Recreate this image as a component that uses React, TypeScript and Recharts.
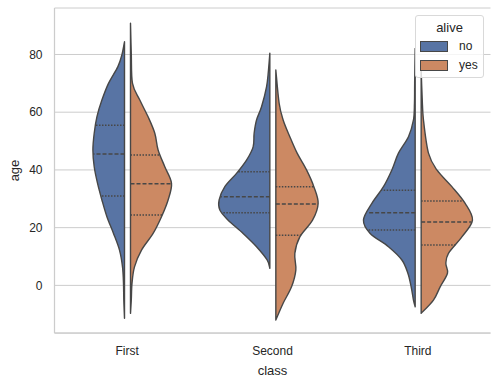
import React from 'react';
import { ComposedChart, Bar, XAxis, YAxis, CartesianGrid, Legend } from 'recharts';

// ---------- data ----------
const CLASSES = ['First', 'Second', 'Third'];
const ALIVE = ['no', 'yes'];
const Y_TICKS = [0, 20, 40, 60, 80];
const Y_DOMAIN: [number, number] = [-16.5, 96.1];

// violin half profiles: [age, half-width (px at reference width 56)]
const FIRST_NO: [number, number][] = [
  [84.4, 0], [80, 2.5], [75.8, 6.6], [70, 16], [64.2, 22.6], [58.4, 27.6], [52.7, 30.3],
  [46.9, 31.6], [41.1, 30.3], [35.4, 27], [29.6, 22.6], [23.8, 17.6], [18, 11],
  [12.2, 5], [6.4, 2], [0.7, 1], [-5, 0.7], [-11.4, 0],
];
const FIRST_YES: [number, number][] = [
  [90.8, 0], [80, 0.8], [70, 2], [64.2, 9.3], [58.4, 17.6], [52.7, 24.3], [46.9, 27.6],
  [41.1, 34.3], [35.4, 41], [29.6, 37.6], [23.8, 31], [18, 22.6], [12.2, 11],
  [6.4, 4], [0.7, 1.5], [-5, 0.8], [-9.7, 0],
];
const SECOND_NO: [number, number][] = [
  [80.4, 0], [74, 1.5], [68.8, 3.3], [61.9, 8.3], [57.3, 13.3], [52.7, 15.7], [48, 16.7],
  [43.4, 23.3], [38.8, 33.3], [34.2, 45], [29.6, 50.7], [26.1, 50], [22.6, 41.7],
  [18, 26.7], [13.4, 13.3], [8.8, 2.7], [5.9, 0],
];
const SECOND_YES: [number, number][] = [
  [74.6, 0], [63.1, 3.3], [57.3, 7.3], [51.5, 14], [45.8, 21.3], [40, 30.7], [34.2, 38],
  [28.4, 42.3], [22.6, 36.7], [16.8, 24], [11.1, 19], [5.3, 20], [-0.5, 15.7],
  [-6.2, 7.3], [-12, 0],
];
const THIRD_NO: [number, number][] = [
  [82.1, 0], [70, 0.5], [63.1, 0.7], [57.3, 1.7], [51.5, 6.7], [45.8, 16.7], [40, 23.3],
  [34.2, 31.7], [28.4, 43.3], [22.6, 51.7], [18, 45], [13.4, 26.7], [8.8, 13.3],
  [4.2, 7.3], [-0.5, 4], [-5.1, 1.7], [-7.4, 0],
];
const THIRD_YES: [number, number][] = [
  [74.6, 0], [65, 1], [57.3, 2.3], [45.8, 7.3], [40, 15.7], [34.2, 30.7], [28.4, 44],
  [22.6, 51.3], [16.8, 40.7], [11.1, 27.3], [7.6, 24.7], [4.2, 26.3], [-0.5, 19],
  [-5.1, 12.3], [-9.7, 0],
];

// quartiles [Q1, median, Q3]
const FIRST_NO_Q = [31, 45.5, 55.5];
const FIRST_YES_Q = [24.4, 35.2, 45.2];
const SECOND_NO_Q = [25.2, 30.7, 39.4];
const SECOND_YES_Q = [17.4, 28.2, 34.2];
const THIRD_NO_Q = [19.2, 25.2, 33];
const THIRD_YES_Q = [14, 22, 29.2];

const PROFILES_NO = [FIRST_NO, SECOND_NO, THIRD_NO];
const PROFILES_YES = [FIRST_YES, SECOND_YES, THIRD_YES];
const QUART_NO = [FIRST_NO_Q, SECOND_NO_Q, THIRD_NO_Q];
const QUART_YES = [FIRST_YES_Q, SECOND_YES_Q, THIRD_YES_Q];

const range = (p: [number, number][]) => {
  const ages = p.map((d) => d[0]);
  return [Math.min(...ages), Math.max(...ages)];
};

const data = CLASSES.map((cls, i) => ({
  cls,
  no: range(PROFILES_NO[i]),
  yes: range(PROFILES_YES[i]),
  noProfile: PROFILES_NO[i],
  yesProfile: PROFILES_YES[i],
  noQ: QUART_NO[i],
  yesQ: QUART_YES[i],
}));

// ---------- styling ----------
const FONT = '"Liberation Sans", Arial, sans-serif';
const TEXT = '#262626';
const COLORS: Record<string, string> = { no: '#5874a4', yes: '#cc8963' };
const EDGE = '#474747';
const FRAME = '#cccccc';
const WIDTH_REF = 56;

const smooth = (pts: number[][]) => {
  let d = `M${pts[0][0]},${pts[0][1]}`;
  for (let i = 0; i < pts.length - 1; i++) {
    const p0 = pts[i - 1] || pts[i];
    const p1 = pts[i];
    const p2 = pts[i + 1];
    const p3 = pts[i + 2] || p2;
    const c1x = p1[0] + (p2[0] - p0[0]) / 6;
    const c1y = p1[1] + (p2[1] - p0[1]) / 6;
    const c2x = p2[0] - (p3[0] - p1[0]) / 6;
    const c2y = p2[1] - (p3[1] - p1[1]) / 6;
    d += ` C${c1x},${c1y} ${c2x},${c2y} ${p2[0]},${p2[1]}`;
  }
  return d;
};

const widthAt = (prof: [number, number][], a: number) => {
  for (let i = 0; i < prof.length - 1; i++) {
    const [a1, w1] = prof[i];
    const [a2, w2] = prof[i + 1];
    if (a <= a1 && a >= a2) {
      const t = (a1 - a) / (a1 - a2);
      return w1 + (w2 - w1) * t;
    }
  }
  return 0;
};

const makeShape = (side: 'no' | 'yes') => (props: any) => {
  const { x, y, width, height, payload } = props;
  if (!payload) return null;
  const prof: [number, number][] = payload[side + 'Profile'];
  const [lo, hi] = payload[side];
  const quarts: number[] = payload[side + 'Q'];
  const top = Math.min(y, y + height);
  const h = Math.abs(height);
  const toY = (a: number) => top + ((hi - a) / (hi - lo)) * h;
  const k = width / WIDTH_REF;
  const inner = side === 'no' ? x + width : x;
  const dir = side === 'no' ? -1 : 1;
  const pts = prof.map(([a, w]) => [inner + dir * w * k, toY(a)]);
  const d = smooth(pts) + ` L${inner},${toY(hi)} Z`;
  return (
    <g>
      <path d={d} fill={COLORS[side]} stroke={EDGE} strokeWidth={1.4} strokeLinejoin="round" />
      {quarts.map((q, i) => {
        const w = widthAt(prof, q) * k;
        const yy = toY(q);
        return (
          <line
            key={i}
            x1={inner}
            x2={inner + dir * w}
            y1={yy}
            y2={yy}
            stroke={EDGE}
            strokeWidth={1.5}
            strokeDasharray={i === 1 ? '4 2' : '1.5 1.5'}
          />
        );
      })}
    </g>
  );
};

const LegendBox = () => (
  <div
    style={{
      position: 'relative',
      boxSizing: 'border-box',
      width: 69,
      height: 63,
      background: 'rgba(255,255,255,0.8)',
      border: '1px solid #d9d9d9',
      borderRadius: 3,
      fontFamily: FONT,
      color: TEXT,
    }}
  >
    <div style={{ position: 'absolute', left: 0, top: 4, width: '100%', textAlign: 'center', fontSize: 13, lineHeight: '15px' }}>
      alive
    </div>
    {ALIVE.map((a, i) => (
      <React.Fragment key={a}>
        <div
          style={{
            position: 'absolute',
            left: 4,
            top: 25 + i * 19,
            width: 28,
            height: 11,
            boxSizing: 'border-box',
            background: COLORS[a],
            border: `1.5px solid ${EDGE}`,
          }}
        />
        <div style={{ position: 'absolute', left: 43, top: 23 + i * 19, fontSize: 12, lineHeight: '15px' }}>{a}</div>
      </React.Fragment>
    ))}
  </div>
);

export default function App() {
  return (
    <div style={{ position: 'absolute', left: 0, top: 0, width: 499, height: 385, background: '#fff' }}>
      <ComposedChart
        width={499}
        height={385}
        data={data}
        margin={{ top: 8, right: 8.5, bottom: 0, left: 0.5 }}
        barGap={6}
        barSize={56}
      >
        <CartesianGrid horizontal vertical={false} stroke={FRAME} strokeWidth={1} />
        <XAxis
          dataKey="cls"
          type="category"
          height={52}
          tickLine={false}
          tickSize={6}
          tickMargin={7}
          axisLine={{ stroke: FRAME, strokeWidth: 1.25 }}
          tick={{ fill: TEXT, fontSize: 12, fontFamily: FONT }}
          label={{ value: 'class', position: 'insideBottom', offset: 10, fill: TEXT, fontSize: 13, fontFamily: FONT }}
        />
        <XAxis
          xAxisId="top"
          dataKey="cls"
          orientation="top"
          height={0}
          tick={false}
          tickLine={false}
          axisLine={{ stroke: FRAME, strokeWidth: 1.25 }}
        />
        <YAxis
          type="number"
          domain={Y_DOMAIN}
          ticks={Y_TICKS}
          width={54}
          tickLine={false}
          tickSize={6}
          tickMargin={6}
          axisLine={{ stroke: FRAME, strokeWidth: 1.25 }}
          tick={{ fill: TEXT, fontSize: 12, fontFamily: FONT }}
          label={{
            value: 'age',
            angle: -90,
            position: 'insideLeft',
            offset: 14,
            fill: TEXT,
            fontSize: 13,
            fontFamily: FONT,
            style: { textAnchor: 'middle' },
          }}
        />
        <YAxis
          yAxisId="right"
          orientation="right"
          type="number"
          domain={Y_DOMAIN}
          width={0}
          tick={false}
          tickLine={false}
          axisLine={{ stroke: FRAME, strokeWidth: 1.25 }}
        />
        <Legend
          layout="horizontal"
          verticalAlign="middle"
          align="center"
          content={() => <LegendBox />}
          wrapperStyle={{ left: 415, top: 15, width: 69, height: 63 }}
        />
        <Bar dataKey="no" name="no" fill={COLORS.no} shape={makeShape('no')} isAnimationActive={false} />
        <Bar dataKey="yes" name="yes" fill={COLORS.yes} shape={makeShape('yes')} isAnimationActive={false} />
      </ComposedChart>
    </div>
  );
}
